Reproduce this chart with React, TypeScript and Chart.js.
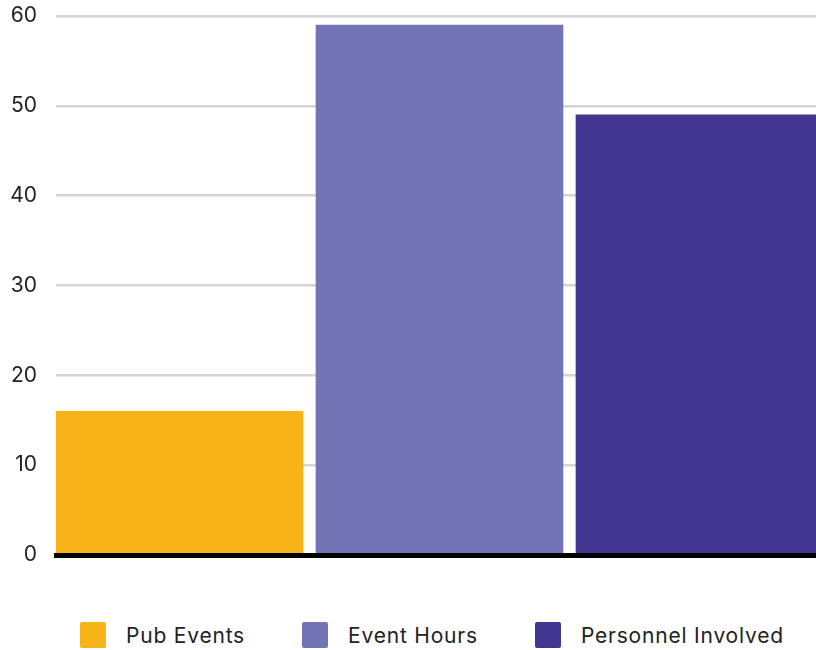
import { useEffect, useRef } from 'react';
import { Chart, registerables, type ChartConfiguration } from 'chart.js';

Chart.register(...registerables);

const CATEGORIES = ['Pub Events', 'Event Hours', 'Personnel Involved'];
const POSITIONS = [0, 1, 2];
const VALUES = [16, 59, 49];
const COLORS = ['#F8B319', '#7274B5', '#433592'];
const Y_MIN = 0;
const Y_MAX = 60;
const Y_STEP = 10;

const FONT = "Inter, 'Noto Sans', sans-serif";

export default function App() {
  const canvasRef = useRef<HTMLCanvasElement>(null);
  const chartRef = useRef<Chart | null>(null);

  useEffect(() => {
    if (!canvasRef.current) return;

    const config: ChartConfiguration<'bar'> = {
      type: 'bar',
      data: {
        datasets: CATEGORIES.map((c, i) => ({
          label: c,
          data: [{ x: POSITIONS[i], y: VALUES[i] }],
          backgroundColor: COLORS[i],
          grouped: false,
          barThickness: 247,
        })) as any,
      },
      options: {
        animation: false,
        responsive: true,
        maintainAspectRatio: false,
        layout: { padding: { top: 16, left: 8, right: 24, bottom: 45 } },
        plugins: {
          legend: { display: false },
          tooltip: { enabled: false },
        },
        scales: {
          x: {
            type: 'linear',
            offset: false,
            min: -0.475,
            max: 2.525,
            ticks: { display: false },
            grid: { display: false, drawTicks: false, offset: false },
            border: { display: true, color: '#000', width: 5, z: 1 },
            afterFit: (s: any) => {
              s.height = 0;
              s.paddingLeft = 0;
              s.paddingRight = 0;
            },
          },
          y: {
            min: Y_MIN,
            max: Y_MAX,
            ticks: {
              stepSize: Y_STEP,
              padding: 19,
              color: '#222',
              font: { family: FONT, size: 21 },
            },
            grid: { color: '#d4d4d4', lineWidth: 2.5, drawTicks: false },
            border: { display: false },
            afterFit: (s: any) => {
              s.width = 48;
              s.paddingTop = 0;
              s.paddingBottom = 0;
            },
          },
        },
      },
    };

    chartRef.current?.destroy();
    chartRef.current = new Chart(canvasRef.current, config);

    return () => {
      chartRef.current?.destroy();
      chartRef.current = null;
    };
  }, []);

  return (
    <div
      style={{
        position: 'fixed',
        left: 0,
        top: 0,
        width: 816,
        height: 650,
        overflow: 'hidden',
        background: '#fff',
        fontFamily: FONT,
      }}
    >
      <div style={{ position: 'relative', width: 860, height: 600 }}>
        <canvas ref={canvasRef} />
      </div>
      <div
        style={{
          position: 'absolute',
          top: 622,
          left: 80,
          display: 'flex',
          alignItems: 'center',
          gap: 57,
        }}
      >
        {CATEGORIES.map((c, i) => (
          <div key={c} style={{ display: 'flex', alignItems: 'center' }}>
            <div
              style={{
                width: 26,
                height: 26,
                borderRadius: 2,
                background: COLORS[i],
                marginRight: 20,
              }}
            />
            <span style={{ fontSize: 21, letterSpacing: 0.8, color: '#222' }}>{c}</span>
          </div>
        ))}
      </div>
    </div>
  );
}
